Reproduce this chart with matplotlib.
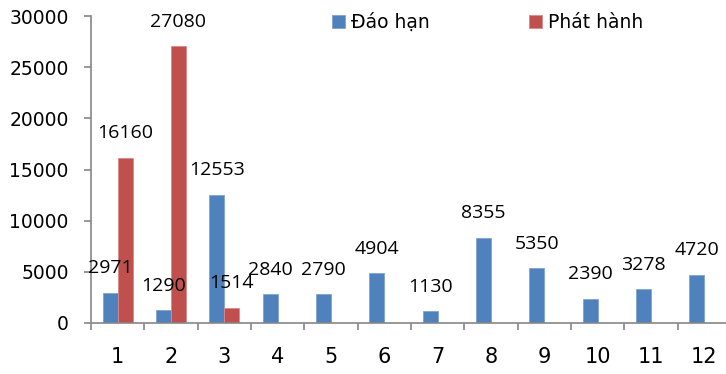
import matplotlib
matplotlib.use("Agg")
import matplotlib.pyplot as plt
import numpy as np

months = [1, 2, 3, 4, 5, 6, 7, 8, 9, 10, 11, 12]
dao_han = [2971, 1290, 12553, 2840, 2790, 4904, 1130, 8355, 5350, 2390, 3278, 4720]
phat_hanh = [16160, 27080, 1514, 0, 0, 0, 0, 0, 0, 0, 0, 0]
yticks = [0, 5000, 10000, 15000, 20000, 25000, 30000]

blue = "#4F81BD"
red = "#C0504D"
grey = "#868686"

fig = plt.figure(figsize=(7.26, 3.74), dpi=100)
ax = fig.add_axes([91 / 726, 51 / 374, 640 / 726, 307 / 374])

x = np.array(months)
w = 0.28
ax.bar(x - w / 2, dao_han, width=w, color=blue, edgecolor="#7FA3D0", linewidth=0.6, label="Đáo hạn")
ax.bar(x + w / 2, phat_hanh, width=w, color=red, edgecolor="#D88A88", linewidth=0.6, label="Phát hành")

lab_font = dict(family=["Open Sans", "DejaVu Sans"], fontsize=14, color="black")
for xi, v in zip(x, dao_han):
    ax.annotate(str(v), (xi - w / 2, v), xytext=(0, 11), textcoords="offset points",
                ha="center", va="bottom", **lab_font)
for xi, v in zip(x, phat_hanh):
    if v > 0:
        ax.annotate(str(v), (xi + w / 2, v), xytext=(0, 11), textcoords="offset points",
                    ha="center", va="bottom", **lab_font)

ax.set_xlim(0.5, 12.5)
ax.set_ylim(0, 30000)
ax.set_yticks(yticks)
ax.set_yticklabels([str(t) for t in yticks], fontsize=13.5, family="DejaVu Sans")
ax.set_xticks(x)
ax.set_xticklabels([str(m) for m in months], fontsize=15, family="DejaVu Sans")
ax.set_xticks(np.arange(0.5, 13, 1), minor=True)
ax.tick_params(axis="x", which="major", length=0, pad=17)
ax.tick_params(axis="x", which="minor", length=5, width=1.2, color=grey, direction="out")
ax.tick_params(axis="y", length=5, width=1.2, color=grey, direction="out", pad=11)

for s in ["top", "right"]:
    ax.spines[s].set_visible(False)
for s in ["left", "bottom"]:
    ax.spines[s].set_color(grey)
    ax.spines[s].set_linewidth(1.2)

leg = ax.legend(loc="upper center", bbox_to_anchor=(0.62, 1.065), ncol=2, frameon=False,
                handlelength=0.7, handleheight=0.7, handletextpad=0.3, columnspacing=5.3,
                prop=dict(family="DejaVu Sans", size=13.5))

fig.savefig("out.png", dpi=100)
